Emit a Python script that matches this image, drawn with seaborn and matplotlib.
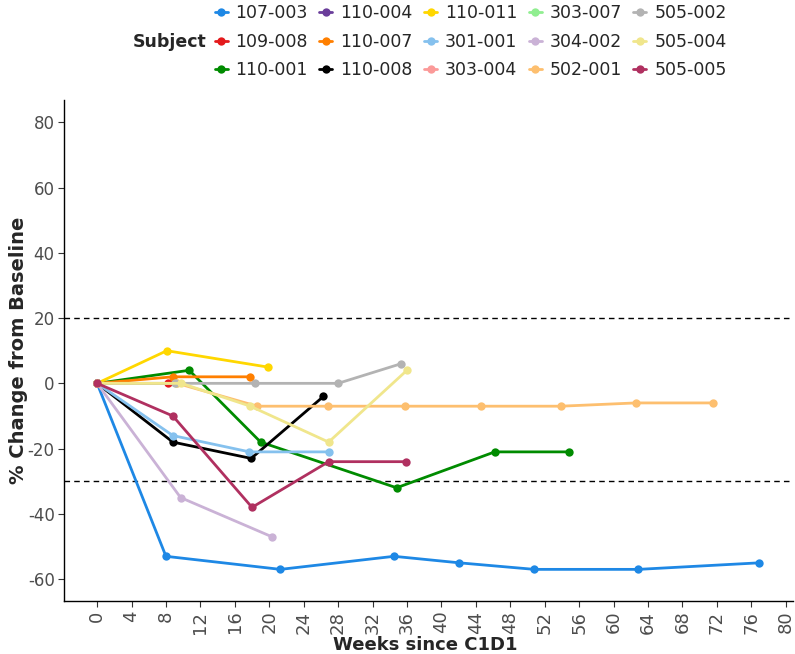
import pandas as pd
import matplotlib.pyplot as plt
import seaborn as sns

sns.set_style("white")
plt.rcParams['axes.unicode_minus'] = False

# --- data ---
subjects = ['107-003', '109-008', '110-001', '110-004', '110-007', '110-008',
            '110-011', '301-001', '303-004', '303-007', '304-002', '502-001',
            '505-002', '505-004', '505-005']

colors = ['#1E88E5', '#E41A1C', '#008B00', '#6A3D9A', '#FF7F00', '#000000',
          '#FFD700', '#85C1EE', '#FB9A99', '#90EE90', '#CAB2D6', '#FDBF6F',
          '#B3B3B3', '#F0E68C', '#B03060']

weeks = {
    '107-003': [0, 8.0, 21.3, 34.5, 42.1, 50.8, 62.9, 76.9],
    '109-008': [0, 8.2],
    '110-001': [0, 10.7, 19.0, 34.8, 46.2, 54.8],
    '110-004': [0],
    '110-007': [0, 8.8, 17.8],
    '110-008': [0, 8.8, 17.9, 26.3],
    '110-011': [0, 8.1, 19.8],
    '301-001': [0, 8.8, 17.7, 26.9],
    '303-004': [0],
    '303-007': [0, 9.2],
    '304-002': [0, 9.7, 20.3],
    '502-001': [0, 9.3, 18.6, 26.8, 35.8, 44.6, 53.9, 62.6, 71.6],
    '505-002': [0, 9.0, 18.3, 28.0, 35.3],
    '505-004': [0, 9.8, 17.8, 26.9, 36.0],
    '505-005': [0, 8.8, 18.0, 26.9, 35.9],
}
change = {
    '107-003': [0, -53, -57, -53, -55, -57, -57, -55],
    '109-008': [0, 0],
    '110-001': [0, 4, -18, -32, -21, -21],
    '110-004': [0],
    '110-007': [0, 2, 2],
    '110-008': [0, -18, -23, -4],
    '110-011': [0, 10, 5],
    '301-001': [0, -16, -21, -21],
    '303-004': [0],
    '303-007': [0, 0],
    '304-002': [0, -35, -47],
    '502-001': [0, 0, -7, -7, -7, -7, -7, -6, -6],
    '505-002': [0, 0, 0, 0, 6],
    '505-004': [0, 0, -7, -18, 4],
    '505-005': [0, -10, -38, -24, -24],
}

rows = []
for s in subjects:
    for w, c in zip(weeks[s], change[s]):
        rows.append({'Subject': s, 'Week': w, 'Change': c})
df = pd.DataFrame(rows)

fig = plt.figure(figsize=(7.95, 6.54), dpi=100)
ax = fig.add_axes([0.081, 0.081, 0.917, 0.766])

sns.lineplot(data=df, x='Week', y='Change', hue='Subject', hue_order=subjects,
             palette=dict(zip(subjects, colors)), estimator=None, sort=True,
             marker='o', markersize=6, markeredgewidth=0, linewidth=2, ax=ax)

# reference thresholds
ax.axhline(20, color='black', linewidth=1, dashes=(4, 3), zorder=0)
ax.axhline(-30, color='black', linewidth=1, dashes=(4, 3), zorder=0)

ax.set_xlim(-3.8, 80.9)
ax.set_ylim(-66.7, 86.8)
ax.set_xticks(range(0, 81, 4))
ax.set_yticks(range(-60, 81, 20))
ax.tick_params(axis='x', labelrotation=90, labelsize=13, labelcolor='#4D4D4D',
               length=4, color='#333333', direction='out', pad=3)
ax.tick_params(axis='y', labelsize=12, labelcolor='#4D4D4D',
               length=4, color='#333333', direction='out', pad=3)
ax.tick_params(bottom=True, left=True)

for side in ['top', 'right']:
    ax.spines[side].set_visible(False)
for side in ['left', 'bottom']:
    ax.spines[side].set_color('black')
    ax.spines[side].set_linewidth(1)

ax.set_xlabel('Weeks since C1D1', fontsize=13, fontweight='bold')
ax.set_ylabel('% Change from Baseline', fontsize=14, fontweight='bold')
ax.xaxis.set_label_coords(0.495, -0.088)
ax.xaxis.label.set_va('center')
ax.yaxis.set_label_coords(-0.063, 0.5)
ax.yaxis.label.set_va('center')

handles, labels = ax.get_legend_handles_labels()
ax.get_legend().remove()
fig.legend(handles, labels, ncol=5, loc='center', bbox_to_anchor=(0.592, 0.936),
           frameon=False, fontsize=12.5,
           handlelength=0.75, handletextpad=0.46, columnspacing=0.65,
           labelspacing=0.6, borderpad=0)
fig.text(0.26, 0.936, 'Subject', ha='right', va='center', fontsize=12.5,
         fontweight='bold')

fig.savefig('out.png', dpi=100)
